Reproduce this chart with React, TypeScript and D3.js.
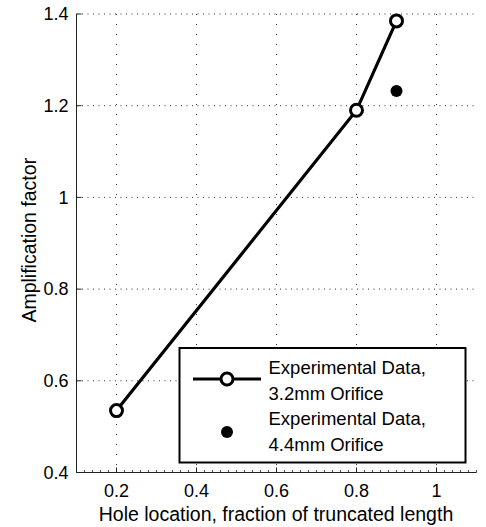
import React from 'react';
import * as d3 from 'd3';

const xTicks = [0.2, 0.4, 0.6, 0.8, 1];
const yTicks = [0.4, 0.6, 0.8, 1, 1.2, 1.4];
const holeLoc32 = [0.2, 0.8, 0.9];
const amp32 = [0.535, 1.19, 1.385];
const holeLoc44 = [0.9];
const amp44 = [1.232];
const legendLabels = [
    ['Experimental Data,', '3.2mm Orifice'],
    ['Experimental Data,', '4.4mm Orifice'],
];

const App = () => {
    const width = 486;
    const height = 527;
    const margin = { left: 76.5, right: 10, top: 14, bottom: 55 };
    const font = 'Liberation Sans, Arial, Helvetica, sans-serif';

    const x = d3.scaleLinear().domain([0.1, 1.1]).range([margin.left, 476.5]);
    const y = d3.scaleLinear().domain([0.4, 1.4]).range([472.5, margin.top]);

    const minorTicks = d3.range(0.12, 1.1, 0.02).filter(
        t => !xTicks.some(m => Math.abs(m - t) < 1e-6)
    );

    const line = d3.line<number>()
        .x((d, i) => x(holeLoc32[i]))
        .y(d => y(d));

    return (
        <svg width={width} height={height} style={{ position: 'absolute', left: 0, top: 0 }}>
            <rect width={width} height={height} fill="white" />
            {/* grid */}
            <g stroke="#333" strokeWidth={1}>
                {xTicks.map(t => (
                    <line key={'gx' + t} x1={x(t)} x2={x(t)} y1={y(1.4)} y2={y(0.4)}
                        strokeDasharray="1,9" />
                ))}
                {yTicks.map(t => (
                    <line key={'gy' + t} x1={x(0.1)} x2={x(1.1)} y1={y(t)} y2={y(t)}
                        strokeDasharray="1,4.5" />
                ))}
            </g>
            {/* axes */}
            <line x1={x(0.1)} x2={x(0.1)} y1={y(1.4)} y2={y(0.4)} stroke="#222" strokeWidth={1} />
            <line x1={x(0.1)} x2={x(1.1)} y1={y(0.4)} y2={y(0.4)} stroke="#222" strokeWidth={1} />
            {yTicks.map(t => (
                <g key={'yt' + t}>
                    <line x1={x(0.1)} x2={x(0.1) + 5} y1={y(t)} y2={y(t)} stroke="#222" />
                    <text x={x(0.1) - 8} y={y(t)} dy="0.35em" textAnchor="end"
                        fontFamily={font} fontSize={18}>{t}</text>
                </g>
            ))}
            {xTicks.map(t => (
                <g key={'xt' + t}>
                    <line x1={x(t)} x2={x(t)} y1={y(0.4)} y2={y(0.4) - 5} stroke="#222" />
                    <text x={x(t)} y={y(0.4) + 24} textAnchor="middle"
                        fontFamily={font} fontSize={18}>{t}</text>
                </g>
            ))}
            {minorTicks.map(t => (
                <line key={'mt' + t} x1={x(t)} x2={x(t)} y1={y(0.4)} y2={y(0.4) - 2.5}
                    stroke="#222" strokeWidth={0.8} />
            ))}
            {/* labels */}
            <text x={276} y={521} textAnchor="middle" fontFamily={font} fontSize={19.5}>
                Hole location, fraction of truncated length
            </text>
            <text transform={`translate(36,${(y(0.4) + y(1.4)) / 2 - 3}) rotate(-90)`}
                textAnchor="middle" fontFamily={font} fontSize={19.5}>
                Amplification factor
            </text>
            {/* series */}
            <path d={line(amp32) || ''} fill="none" stroke="black" strokeWidth={3.2} />
            {amp32.map((d, i) => (
                <circle key={'c' + i} cx={x(holeLoc32[i])} cy={y(d)} r={6}
                    fill="white" stroke="black" strokeWidth={3} />
            ))}
            {amp44.map((d, i) => (
                <circle key={'f' + i} cx={x(holeLoc44[i])} cy={y(d)} r={6} fill="black" />
            ))}
            {/* legend */}
            <rect x={179.5} y={348} width={286} height={114.5} fill="white" stroke="black" strokeWidth={2} />
            <line x1={193} x2={261} y1={379} y2={379} stroke="black" strokeWidth={3.2} />
            <circle cx={227} cy={379} r={6} fill="white" stroke="black" strokeWidth={3} />
            <circle cx={227} cy={432} r={6} fill="black" />
            {legendLabels.map((lines, i) => (
                <text key={'lg' + i} x={268.5} y={373.5 + i * 51} fontFamily={font} fontSize={18.5}>
                    <tspan x={268.5} dy={0}>{lines[0]}</tspan>
                    <tspan x={268.5} dy={26}>{lines[1]}</tspan>
                </text>
            ))}
        </svg>
    );
};

export default App;
